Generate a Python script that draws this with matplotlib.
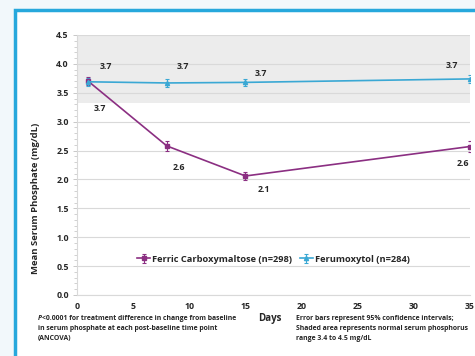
import numpy as np
import matplotlib.pyplot as plt
from matplotlib.patches import Rectangle
from matplotlib.ticker import MultipleLocator

plt.rcParams['font.family'] = ['Open Sans', 'DejaVu Sans']

days = [1, 8, 15, 35]
fcm_mean = [3.70, 2.58, 2.06, 2.57]
fcm_err = [0.07, 0.08, 0.07, 0.09]
fer_mean = [3.69, 3.67, 3.68, 3.74]
fer_err = [0.07, 0.07, 0.06, 0.07]
fcm_labels = ["3.7", "2.6", "2.1", "2.6"]
fer_labels = ["3.7", "3.7", "3.7", "3.7"]
normal_range = (3.32, 4.5)

purple = "#8b2f82"
blue = "#3aa8d4"
ink = "#262626"

fig = plt.figure(figsize=(4.75, 3.56), dpi=100)
fig.patch.set_facecolor("#f2f8fb")
panel = Rectangle((15 / 475, -0.1), 1.2, 1.1 - 9.5 / 356,
                  transform=fig.transFigure, facecolor="white",
                  edgecolor="#27a8dc", linewidth=2.5, zorder=-10)
fig.add_artist(panel)

ax = fig.add_axes([77 / 475, 1 - 295 / 356, (470 - 77) / 475, (295 - 35) / 356])
ax.set_facecolor("none")

# shaded normal range
ax.axhspan(*normal_range, color="#ececec", zorder=0, lw=0)
ax.set_axisbelow(True)
ax.yaxis.grid(True, color="#d9d9d9", linewidth=0.8)

ax.errorbar(days, fcm_mean, yerr=fcm_err, color=purple, marker="s", ms=3,
            lw=1.2, capsize=1.5, elinewidth=0.8, capthick=0.8,
            label="Ferric Carboxymaltose (n=298)", zorder=3)
ax.errorbar(days, fer_mean, yerr=fer_err, color=blue, marker="^", ms=3,
            lw=1.2, capsize=1.5, elinewidth=0.8, capthick=0.8,
            label="Ferumoxytol (n=284)", zorder=3)

fer_pos = [(2.6, 3.96), (9.4, 3.95), (16.4, 3.84), (33.4, 3.98)]
fcm_pos = [(2.0, 3.22), (9.1, 2.21), (16.6, 1.82), (34.4, 2.28)]
for (x, y), t in zip(fer_pos, fer_labels):
    ax.text(x, y, t, ha="center", va="center", fontsize=6.3,
            fontweight="bold", color=ink)
for (x, y), t in zip(fcm_pos, fcm_labels):
    ax.text(x, y, t, ha="center", va="center", fontsize=6.3,
            fontweight="bold", color=ink)

ax.set_xlim(0, 35)
ax.set_ylim(0, 4.5)
ax.xaxis.set_major_locator(MultipleLocator(5))
ax.yaxis.set_major_locator(MultipleLocator(0.5))
ax.yaxis.set_minor_locator(MultipleLocator(0.1))
ax.yaxis.set_major_formatter(lambda v, p: f"{v:.1f}")
ax.tick_params(axis="x", length=0, pad=5, labelsize=6.3, colors=ink)
ax.tick_params(axis="y", which="major", length=3, width=0.6, color="#bfbfbf",
               labelsize=6.3, labelcolor=ink, pad=3)
ax.tick_params(axis="y", which="minor", length=2, width=0.5, color="#bfbfbf")
for lab in ax.get_xticklabels() + ax.get_yticklabels():
    lab.set_fontweight("bold")

for s in ["top", "right"]:
    ax.spines[s].set_visible(False)
for s in ["left", "bottom"]:
    ax.spines[s].set_color("#d9d9d9")
    ax.spines[s].set_linewidth(0.8)

ax.set_ylabel("Mean Serum Phosphate (mg/dL)", fontsize=6.8, fontweight="bold",
              color=ink)
ax.yaxis.set_label_coords(-0.095, 0.373)

leg = ax.legend(loc="center", bbox_to_anchor=(0.5, 0.138), ncol=2, frameon=False,
                prop={"size": 6.7, "weight": "bold"}, handlelength=1.4,
                handletextpad=0.2, columnspacing=0.8)
for t in leg.get_texts():
    t.set_color(ink)

fig.text(270 / 475, 1 - 318 / 356, "Days", fontsize=7, fontweight="bold",
         color=ink, ha="center", va="center")

# footnotes
note = dict(fontsize=4.95, fontweight="bold", color=ink, linespacing=1.55)
p_txt = fig.text(38 / 475, 1 - 315 / 356, "P", style="italic", ha="left",
                 va="top", **note)
ax.annotate("<0.0001 for treatment difference in change from baseline",
            xy=(1, 0), xycoords=p_txt, ha="left", va="bottom", **note)
fig.text(38 / 475, 1 - 325 / 356,
         "in serum phosphate at each post-baseline time point\n(ANCOVA)",
         ha="left", va="top", **note)
fig.text(296 / 475, 1 - 315 / 356,
         "Error bars represent 95% confidence intervals;\n"
         "Shaded area represents normal serum phosphorus\nrange 3.4 to 4.5 mg/dL",
         ha="left", va="top", **note)

fig.savefig("out.png", dpi=100, facecolor=fig.get_facecolor())
